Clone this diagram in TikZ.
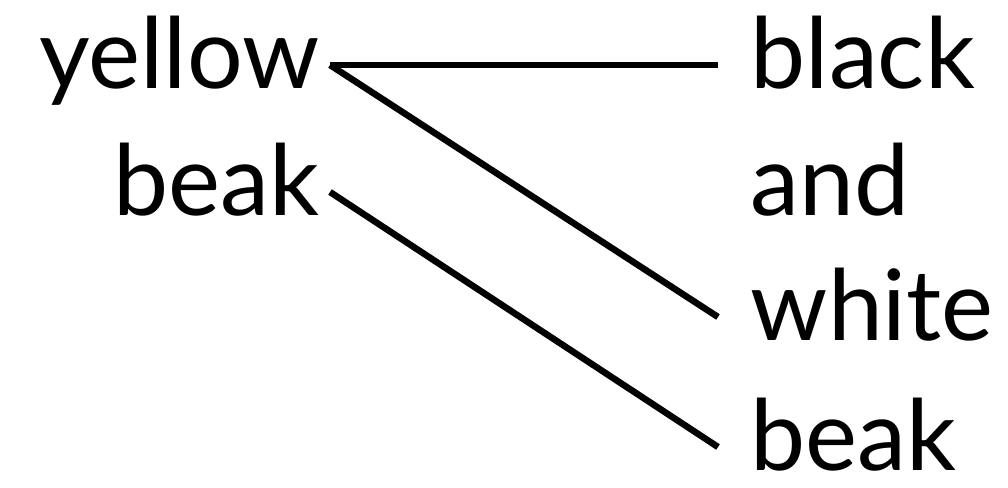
\documentclass[tikz,border=0pt]{standalone}
\usepackage{fontspec}
\setmainfont{Lato}
\usetikzlibrary{positioning}

\begin{document}
\begin{tikzpicture}[
  word/.style={inner ysep=0pt, text height=0.7cm, text depth=0.24cm, font=\fontsize{28}{30}\selectfont},
  lword/.style={word, inner xsep=0.1cm, anchor=base east},
  rword/.style={word, inner xsep=0.32cm, anchor=base west},
  link/.style={line width=0.065cm}
]
\useasboundingbox (0,0) rectangle (10.08,4.87);
% left column
\node[lword] (yellow) at (3.3,3.99) {yellow};
\node[lword] (beakL) at (3.3,2.72) {beak};
% right column
\node[rword] (black) at (7.18,3.99) {black};
\node[rword] (and) at (7.18,2.72) {and};
\node[rword] (white) at (7.18,1.47) {white};
\node[rword] (beakR) at (7.18,0.17) {beak};

\draw[link] (yellow.east) -- (black.west);
\draw[link] (yellow.east) -- (white.west);
\draw[link] (beakL.east) -- (beakR.west);
\end{tikzpicture}
\end{document}
